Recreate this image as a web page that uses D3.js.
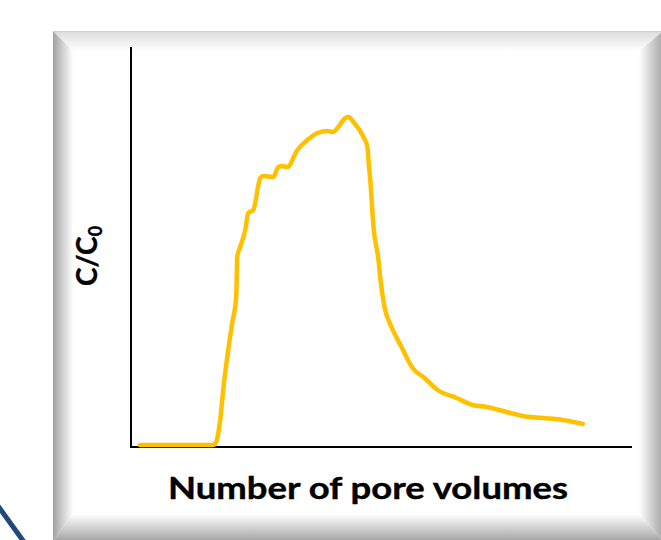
<!DOCTYPE html>
<html>
<head>
<meta charset="utf-8">
<script src="https://cdn.jsdelivr.net/npm/d3@7"></script>
<style>
  html, body { margin: 0; padding: 0; background: #fff; }
  svg { display: block; }
</style>
</head>
<body>
<svg id="chart" width="661" height="540"></svg>
<script>
// ---- Data (arbitrary units) ----
const poreVolumes = [0.09, 0.82, 0.85, 0.89, 0.92, 0.97, 1.01, 1.05, 1.06, 1.09, 1.14, 1.17, 1.22, 1.29, 1.32, 1.42, 1.47, 1.51, 1.56, 1.66, 1.76, 1.86, 1.96, 2.02, 2.06, 2.14, 2.17, 2.22, 2.32, 2.36, 2.37, 2.39, 2.42, 2.47, 2.49, 2.53, 2.60, 2.70, 2.81, 2.93, 3.06, 3.25, 3.41, 3.55, 3.75, 3.91, 4.11, 4.31, 4.51];
const concentration = [0.005, 0.005, 0.0125, 0.0675, 0.1425, 0.2425, 0.31, 0.375, 0.475, 0.50, 0.5425, 0.585, 0.5925, 0.6725, 0.6775, 0.675, 0.70, 0.7025, 0.70, 0.7425, 0.7675, 0.785, 0.79, 0.7875, 0.7975, 0.8225, 0.825, 0.8125, 0.775, 0.75, 0.7175, 0.66, 0.55, 0.4675, 0.4175, 0.35, 0.30, 0.25, 0.1975, 0.1725, 0.1425, 0.1225, 0.105, 0.10, 0.0875, 0.0775, 0.0725, 0.0675, 0.0575];
const xAxisLabel = "Number of pore volumes";
const yAxisMain = "C/C";
const yAxisSub = "0";

const svg = d3.select("#chart");
const defs = svg.append("defs");

// ---- Beveled frame ----
const fo = { l: 53, t: 31, r: 663, b: 541 }; // outer
const fi = { l: 73, t: 51, r: 639, b: 514 }; // inner

function grad(id, x1, y1, x2, y2, c1, c2) {
  const g = defs.append("linearGradient").attr("id", id)
    .attr("x1", x1).attr("y1", y1).attr("x2", x2).attr("y2", y2);
  g.append("stop").attr("offset", "0%").attr("stop-color", c1);
  g.append("stop").attr("offset", "100%").attr("stop-color", c2);
}
grad("gTop", 0, 0, 0, 1, "#dcdcdc", "#ffffff");
grad("gLeft", 0, 0, 1, 0, "#a2a2a2", "#ffffff");
grad("gRight", 0, 0, 1, 0, "#ffffff", "#a6a6a6");
grad("gBot", 0, 0, 0, 1, "#ffffff", "#a4a4a4");

svg.append("rect").attr("x", fi.l).attr("y", fi.t)
  .attr("width", fi.r - fi.l).attr("height", fi.b - fi.t).attr("fill", "#fff");
const poly = (pts, fill) => svg.append("polygon")
  .attr("points", pts.map(p => p.join(",")).join(" ")).attr("fill", fill);
poly([[fo.l, fo.t], [fo.r, fo.t], [fi.r, fi.t], [fi.l, fi.t]], "url(#gTop)");
poly([[fo.l, fo.t], [fi.l, fi.t], [fi.l, fi.b], [fo.l, fo.b]], "url(#gLeft)");
poly([[fi.r, fi.t], [fo.r, fo.t], [fo.r, fo.b], [fi.r, fi.b]], "url(#gRight)");
poly([[fi.l, fi.b], [fi.r, fi.b], [fo.r, fo.b], [fo.l, fo.b]], "url(#gBot)");
svg.append("line").attr("x1", fo.l).attr("y1", fo.t + 0.5).attr("x2", fo.r).attr("y2", fo.t + 0.5)
  .attr("stroke", "#d0d0d0").attr("stroke-width", 1);

// ---- Decorative blue stroke at bottom-left ----
svg.append("line").attr("x1", -2).attr("y1", 506).attr("x2", 24).attr("y2", 542)
  .attr("stroke", "#1f497d").attr("stroke-width", 5);

// ---- Scales ----
const x = d3.scaleLinear().domain([0, 5]).range([131, 632]);
const y = d3.scaleLinear().domain([0, 1]).range([447, 47]);

// ---- Axes (plain lines, no ticks) ----
svg.append("line").attr("x1", x(0)).attr("y1", y(1)).attr("x2", x(0)).attr("y2", y(0))
  .attr("stroke", "#000").attr("stroke-width", 2);
svg.append("line").attr("x1", x(0) - 1).attr("y1", y(0)).attr("x2", x(5)).attr("y2", y(0))
  .attr("stroke", "#000").attr("stroke-width", 2);

// ---- Curve ----
const data = poreVolumes.map((v, i) => [v, concentration[i]]);
const line = d3.line().x(d => x(d[0])).y(d => y(d[1])).curve(d3.curveMonotoneX);
svg.append("path").datum(data).attr("d", line)
  .attr("fill", "none").attr("stroke", "#ffc000").attr("stroke-width", 4.5)
  .attr("stroke-linejoin", "round").attr("stroke-linecap", "round");

// ---- Labels ----
svg.append("text").attr("x", 368).attr("y", 499)
  .attr("text-anchor", "middle")
  .attr("font-family", "Lato, 'Open Sans', sans-serif").attr("font-weight", 700)
  .attr("font-size", 31).attr("fill", "#000")
  .attr("stroke", "#000").attr("stroke-width", 0.4)
  .attr("textLength", 400).attr("lengthAdjust", "spacingAndGlyphs")
  .text(xAxisLabel);

const yl = svg.append("text")
  .attr("transform", "translate(97,256) rotate(-90)")
  .attr("text-anchor", "middle")
  .attr("font-family", "Lato, 'Open Sans', sans-serif").attr("font-weight", 700)
  .attr("font-size", 28).attr("fill", "#000")
  .attr("stroke", "#000").attr("stroke-width", 0.4);
yl.append("tspan").text(yAxisMain);
yl.append("tspan").attr("font-size", 18).attr("dy", 5).text(yAxisSub);
</script>
</body>
</html>
